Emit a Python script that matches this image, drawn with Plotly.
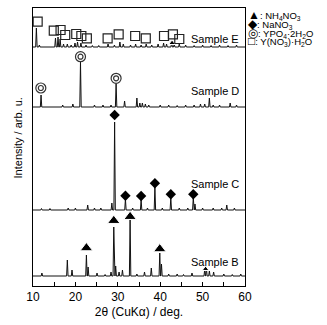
import plotly.graph_objects as go

# ---- data (2theta in deg, intensity in arbitrary units above each baseline) ----
E_pos = [10.8, 11.5, 15.3, 15.9, 16.4, 17.2, 18.1, 19.0, 19.9, 20.5, 21.3, 22.5, 24.0, 25.5, 27.7, 29.2,
         30.5, 31.3, 33.0, 34.2, 35.5, 36.7, 38.0, 39.5, 40.8, 41.5, 42.7, 43.3, 44.5, 46.0, 48.0, 50.0,
         52.0, 54.0, 56.0, 58.0]
E_int = [19, 2, 9, 10, 8, 3, 3, 2, 4, 5, 4, 2, 1.5, 1.5, 3, 2,
         5, 3, 2, 3, 2, 3, 2, 3, 4, 3, 5, 3, 3, 2, 1.5, 2,
         1.5, 2, 1.5, 2]

D_pos = [11.9, 17.0, 19.4, 21.2, 24.5, 26.5, 28.4, 29.6, 31.6, 34.5, 35.2, 35.8, 36.5, 37.3, 40.0, 42.0,
         44.0, 46.0, 48.0, 49.5, 50.5, 51.6, 52.5, 54.0, 56.5, 58.0]
D_int = [12, 2, 3, 45, 2, 2, 2, 23, 6, 9, 4, 4, 3, 2, 2, 2,
         1.5, 2, 2, 3, 3, 9, 2, 2, 4, 2]

C_pos = [12.0, 14.0, 18.3, 20.0, 22.9, 24.5, 26.0, 28.6, 29.25, 31.8, 33.5, 35.5, 37.0, 38.75, 40.5, 42.5,
         44.5, 46.5, 47.8, 48.2, 50.0, 52.5, 54.5, 55.7, 57.5]
C_int = [1.5, 1.5, 2, 2, 5, 2, 2, 7, 88, 11, 2, 10, 2, 23, 2, 12,
         2, 2, 12, 6, 2, 2, 2, 5, 2]

B_pos = [12.1, 18.1, 19.2, 22.6, 23.0, 25.1, 27.0, 28.4, 29.05, 29.5, 30.3, 31.1, 32.9, 34.5, 36.3, 37.9,
         39.9, 40.3, 42.0, 44.0, 45.5, 47.5, 50.5, 50.9, 51.6, 52.6, 55.0, 57.0, 59.0]
B_int = [3, 16, 6, 21, 9, 3, 1.5, 4, 49, 10, 4, 6, 56, 2, 4, 8,
         23, 12, 2, 2, 1.5, 3, 7, 8, 5, 4, 2, 1.5, 2]

offsets = {"B": 10, "C": 76, "D": 179, "E": 239}
labels = ["Sample B", "Sample C", "Sample D", "Sample E"]
label_y = [24, 102, 195, 247]

# phase markers (2theta, height on the plot scale)
tri_x = [22.6, 29.05, 32.9, 39.9, 50.7, 42.8]
tri_y = [38, 65.3, 69.3, 37, 17, 243]
tri_s = [11, 11, 11, 11, 6, 6]
dia_x = [29.25, 31.8, 35.5, 38.75, 42.5, 47.8]
dia_y = [171, 90.3, 90, 102.7, 91.7, 91.7]
yp_x = [11.85, 21.2, 29.6]
yp_y = [198, 229.3, 207.7]
sq_x = [11.1, 14.9, 16.5, 17.6, 20.2, 21.4, 22.7, 27.6, 30.2, 34.1, 36.6, 40.9, 43.0, 44.5]
sq_y = [264.3, 255.3, 256, 251, 252, 250, 247.7, 247.7, 251.7, 250, 247.7, 250, 251.7, 247]

legend_symbols = ["▲", "◆", "◎", "□"]
legend_items = [": NH<sub>4</sub>NO<sub>3</sub>", ": NaNO<sub>3</sub>",
                ": YPO<sub>4</sub>·2H<sub>2</sub>O", ": Y(NO<sub>3</sub>)·H<sub>2</sub>O"]


def profile(pos, inten, base, w=0.17):
    xs = {10.0, 60.0}
    for p in pos:
        xs.update([p - w, p, p + w])
    xs = sorted(x for x in xs if 10 <= x <= 60)
    ys = []
    for x in xs:
        v = 0.0
        for p, h in zip(pos, inten):
            d = abs(x - p)
            if d < w:
                v = max(v, h * (1 - d / w))
        ys.append(base + v)
    return xs, ys


fig = go.Figure()
for key, pos, inten in [("B", B_pos, B_int), ("C", C_pos, C_int), ("D", D_pos, D_int), ("E", E_pos, E_int)]:
    xs, ys = profile(pos, inten, offsets[key])
    fig.add_trace(go.Scatter(x=xs, y=ys, mode="lines", line=dict(color="#111", width=1),
                             hoverinfo="skip", showlegend=False))

fig.add_trace(go.Scatter(x=tri_x, y=tri_y, mode="markers",
                         marker=dict(symbol="triangle-up", size=tri_s, color="black", opacity=1),
                         showlegend=False))
fig.add_trace(go.Scatter(x=dia_x, y=dia_y, mode="markers",
                         marker=dict(symbol="diamond", size=8, color="black"), showlegend=False))
fig.add_trace(go.Scatter(x=yp_x, y=yp_y, mode="markers",
                         marker=dict(symbol="circle-open", size=10, color="#333", line=dict(width=1.2)),
                         showlegend=False))
fig.add_trace(go.Scatter(x=yp_x, y=yp_y, mode="markers",
                         marker=dict(symbol="circle-open", size=5, color="#333", line=dict(width=1.2)),
                         showlegend=False))
fig.add_trace(go.Scatter(x=sq_x, y=sq_y, mode="markers",
                         marker=dict(symbol="square-open", size=9, color="#222", line=dict(width=1.2)),
                         showlegend=False))

font = "Arial, Liberation Sans, sans-serif"
ann = []
for t, yy in zip(labels, label_y):
    ann.append(dict(x=0.979, y=yy, xref="paper", yref="y", text=t, showarrow=False,
                    xanchor="right", yanchor="middle", font=dict(size=11, color="black", family=font)))
for i, (s, t) in enumerate(zip(legend_symbols, legend_items)):
    py = [15, 24, 32.5, 41][i]
    ann.append(dict(x=(245.5 - 33) / 211.5, y=1 - (py - 8) / 278, xref="paper", yref="paper",
                    text="<span style='font-size:12px'>" + s + "</span>" + t,
                    showarrow=False, xanchor="left", yanchor="middle",
                    font=dict(size=9.5, color="black", family=font)))
ann.append(dict(x=(18.5 - 33) / 211.5, y=1 - (138 - 8) / 278, xref="paper", yref="paper",
                text="Intensity / arb. u.",
                textangle=-90, showarrow=False, xanchor="center", yanchor="middle",
                font=dict(size=11, color="black", family=font)))

fig.update_layout(
    width=327, height=325,
    margin=dict(l=33, r=82, t=8, b=39),
    paper_bgcolor="white", plot_bgcolor="white",
    font=dict(family=font, color="black"),
    annotations=ann,
    xaxis=dict(range=[10, 60], tickvals=[10, 20, 30, 40, 50, 60], ticks="inside", ticklen=4,
               tickcolor="black", showline=True, linecolor="black", linewidth=1, mirror=True,
               showgrid=False, zeroline=False, tickfont=dict(size=12),
               minor=dict(tickvals=[15, 25, 35, 45, 55], ticks="inside", ticklen=4, tickcolor="black"),
               title=dict(text="2θ (CuKα) / deg.", font=dict(size=12), standoff=4)),
    yaxis=dict(range=[0, 278], showticklabels=False, ticks="", showline=True, linecolor="black",
               linewidth=1, mirror=True, showgrid=False, zeroline=False),
)

fig.write_html("out.html", post_script="document.body.style.margin='0';",
               config={"displayModeBar": False})
